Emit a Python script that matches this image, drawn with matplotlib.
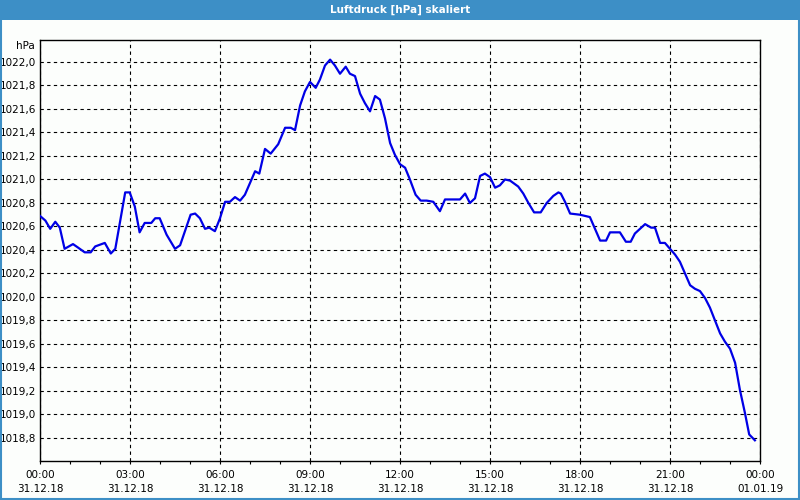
import matplotlib
matplotlib.use("Agg")
import matplotlib.pyplot as plt
from matplotlib.patches import Rectangle
from matplotlib.ticker import MultipleLocator, FuncFormatter

TITLE = "Luftdruck [hPa] skaliert"
UNIT = "hPa"

# hours since 31.12.18 00:00
hours = [0.00, 0.18, 0.34, 0.51, 0.66, 0.82, 1.10, 1.27, 1.49, 1.69, 1.84, 2.16, 2.36, 2.51,
         2.66, 2.84, 2.99, 3.16, 3.32, 3.49, 3.71, 3.84, 3.99, 4.22, 4.50, 4.67, 4.83, 5.02,
         5.17, 5.33, 5.50, 5.64, 5.83, 6.00, 6.17, 6.33, 6.50, 6.67, 6.83, 7.00, 7.17, 7.31,
         7.50, 7.69, 7.94, 8.17, 8.36, 8.50, 8.67, 8.83, 9.00, 9.19, 9.33, 9.50, 9.67, 9.83,
         10.00, 10.19, 10.33, 10.50, 10.67, 10.83, 11.00, 11.17, 11.33, 11.50, 11.67, 11.83,
         12.00, 12.17, 12.33, 12.52, 12.69, 12.89, 13.11, 13.33, 13.50, 13.72, 14.00, 14.17,
         14.33, 14.50, 14.67, 14.83, 15.00, 15.17, 15.33, 15.50, 15.67, 15.94, 16.11, 16.28,
         16.47, 16.69, 16.89, 17.11, 17.28, 17.36, 17.50, 17.67, 18.00, 18.33, 18.50, 18.67,
         18.87, 19.00, 19.33, 19.53, 19.69, 19.83, 20.00, 20.17, 20.37, 20.50, 20.67, 20.83,
         21.00, 21.17, 21.33, 21.50, 21.67, 21.83, 22.00, 22.17, 22.33, 22.50, 22.67, 22.83,
         23.00, 23.17, 23.33, 23.50, 23.64, 23.83]
pressure = [1020.69, 1020.65, 1020.58, 1020.64, 1020.59, 1020.41, 1020.45, 1020.42, 1020.38,
            1020.38, 1020.43, 1020.46, 1020.37, 1020.41, 1020.63, 1020.89, 1020.89, 1020.77,
            1020.55, 1020.63, 1020.63, 1020.67, 1020.67, 1020.53, 1020.41, 1020.44, 1020.56,
            1020.70, 1020.71, 1020.67, 1020.58, 1020.59, 1020.56, 1020.67, 1020.81, 1020.81,
            1020.85, 1020.82, 1020.87, 1020.97, 1021.07, 1021.05, 1021.26, 1021.22, 1021.30,
            1021.44, 1021.44, 1021.42, 1021.63, 1021.75, 1021.83, 1021.78, 1021.85, 1021.97,
            1022.02, 1021.97, 1021.90, 1021.96, 1021.90, 1021.88, 1021.73, 1021.65, 1021.58,
            1021.71, 1021.68, 1021.52, 1021.31, 1021.21, 1021.13, 1021.10, 1021.00, 1020.87,
            1020.82, 1020.82, 1020.81, 1020.73, 1020.83, 1020.83, 1020.83, 1020.88, 1020.80,
            1020.84, 1021.03, 1021.05, 1021.02, 1020.93, 1020.95, 1021.00, 1020.99, 1020.94,
            1020.88, 1020.80, 1020.72, 1020.72, 1020.80, 1020.86, 1020.89, 1020.88, 1020.81,
            1020.71, 1020.70, 1020.68, 1020.58, 1020.48, 1020.48, 1020.55, 1020.55, 1020.47,
            1020.47, 1020.54, 1020.58, 1020.62, 1020.59, 1020.59, 1020.46, 1020.46, 1020.41,
            1020.36, 1020.30, 1020.20, 1020.10, 1020.07, 1020.05, 1019.99, 1019.91, 1019.80,
            1019.69, 1019.62, 1019.56, 1019.44, 1019.21, 1019.01, 1018.83, 1018.78]

tick_hours = [0, 3, 6, 9, 12, 15, 18, 21, 24]
tick_times = ["00:00", "03:00", "06:00", "09:00", "12:00", "15:00", "18:00", "21:00", "00:00"]
tick_dates = ["31.12.18"] * 8 + ["01.01.19"]

BLUE_BAR = "#3d8fc6"
FONT = "DejaVu Sans"

fig = plt.figure(figsize=(8, 5), dpi=100, facecolor="#fcfefc")
# title bar and frame
fig.patches.append(Rectangle((0, 0.96), 1, 0.04, transform=fig.transFigure,
                             facecolor=BLUE_BAR, edgecolor="none", zorder=0))
fig.patches.append(Rectangle((0.001, 0.002), 0.998, 0.996, transform=fig.transFigure,
                             facecolor="none", edgecolor=BLUE_BAR, linewidth=1.5, zorder=1))
fig.text(0.5, 0.98, TITLE, ha="center", va="center", color="white",
         fontsize=7.5, fontweight="bold", family=FONT)

ax = fig.add_axes([0.05, 0.078, 0.9, 0.842])
ax.set_facecolor("#fcfefc")
ax.plot(hours, pressure, color="#0000e6", linewidth=1.6, zorder=3)

ax.set_xlim(0, 24)
ax.set_ylim(1018.604, 1022.187)
ax.set_xticks(tick_hours)
ax.set_xticklabels([f"{t}\n{d}" for t, d in zip(tick_times, tick_dates)],
                   fontsize=7.5, family=FONT, linespacing=1.45)
ax.xaxis.set_minor_locator(MultipleLocator(1))
ax.yaxis.set_major_locator(MultipleLocator(0.2))
ax.yaxis.set_major_formatter(FuncFormatter(lambda v, p: f"{v:.1f}".replace(".", ",")))
for lab in ax.get_yticklabels():
    lab.set_fontsize(7.5)
    lab.set_family(FONT)

ax.tick_params(axis="x", which="major", length=2.5, width=0.8, pad=4)
ax.tick_params(axis="x", which="minor", length=2.5, width=0.8)
ax.tick_params(axis="y", length=0, pad=3)

ax.grid(True, which="major", color="black", linestyle=(0, (3, 3)), linewidth=0.8)
for s in ax.spines.values():
    s.set_linewidth(1.0)
    s.set_color("black")

ax.text(-0.007, 1.0 - 6 / 421, UNIT, transform=ax.transAxes, ha="right", va="center",
        fontsize=7.5, family=FONT)

fig.savefig("out.png", dpi=100, facecolor=fig.get_facecolor())
